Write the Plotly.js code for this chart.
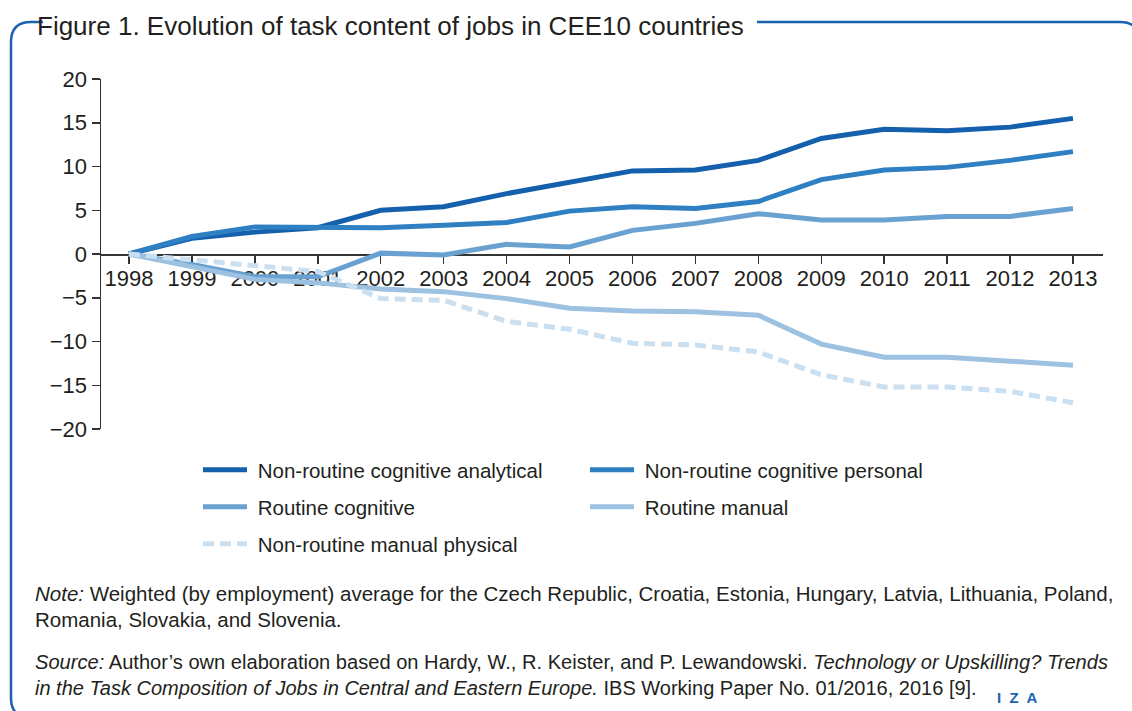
<!DOCTYPE html>
<html>
<head>
<meta charset="utf-8">
<script src="https://cdn.plot.ly/plotly-3.0.1.min.js"></script>
<style>
  html, body { margin: 0; padding: 0; background: #fff; }
  #chart { width: 1132px; height: 711px; }
</style>
</head>
<body>
<div id="chart"></div>
<script>
// ---- data ----
const years = [1998, 1999, 2000, 2001, 2002, 2003, 2004, 2005, 2006, 2007, 2008, 2009, 2010, 2011, 2012, 2013];
const nrCognitiveAnalytical = [0, 1.8, 2.5, 3.0, 5.0, 5.4, 6.9, 8.2, 9.5, 9.6, 10.7, 13.2, 14.25, 14.1, 14.5, 15.5];
const nrCognitivePersonal   = [0, 2.0, 3.1, 3.0, 3.0, 3.3, 3.6, 4.9, 5.4, 5.2, 6.0, 8.5, 9.6, 9.9, 10.7, 11.7];
const routineCognitive      = [0, -1.2, -2.6, -2.6, 0.1, -0.1, 1.1, 0.8, 2.7, 3.5, 4.6, 3.9, 3.9, 4.3, 4.3, 5.2];
const routineManual         = [0, -1.5, -2.9, -3.3, -4.0, -4.3, -5.1, -6.2, -6.5, -6.6, -7.0, -10.3, -11.8, -11.8, -12.2, -12.7];
const nrManualPhysical      = [0, -0.7, -1.3, -2.0, -5.1, -5.3, -7.7, -8.6, -10.2, -10.4, -11.2, -13.8, -15.2, -15.2, -15.7, -17.0];

const seriesNames = [
  "Non-routine cognitive analytical",
  "Non-routine cognitive personal",
  "Routine cognitive",
  "Routine manual",
  "Non-routine manual physical"
];
const titleText = "Figure 1. Evolution of task content of jobs in CEE10 countries";
const noteLines = [
  "<i>Note:</i> Weighted (by employment) average for the Czech Republic, Croatia, Estonia, Hungary, Latvia, Lithuania, Poland,",
  "Romania, Slovakia, and Slovenia.",
  "<i>Source:</i> Author’s own elaboration based on Hardy, W., R. Keister, and P. Lewandowski. <i>Technology or Upskilling? Trends</i>",
  "<i>in the Task Composition of Jobs in Central and Eastern Europe.</i> IBS Working Paper No. 01/2016, 2016 [9]."
];

// ---- layout helpers (pixel -> paper) ----
const W = 1132, H = 711;
const M = {l: 101, r: 29, t: 79, b: 282};
const PW = W - M.l - M.r, PH = H - M.t - M.b;
const px = x => (x - M.l) / PW;
const py = y => (H - M.b - y) / PH;
const P = (x, y) => px(x).toFixed(5) + "," + py(y).toFixed(5);

const bodyFont = "Liberation Sans, Arial, sans-serif";
const textColor = "#231f20";
const frameColor = "#1b63ae";

const colors = ["#1460ac", "#2f80c2", "#69a1d1", "#9cc1e1", "#cadff0"];
const ys = [nrCognitiveAnalytical, nrCognitivePersonal, routineCognitive, routineManual, nrManualPhysical];
const legendIds = ["legend", "legend2", "legend3", "legend4", "legend5"];
// legend item pixel anchors (left of symbol, row centre)
const legendPos = [[198, 470], [585, 470], [198, 507], [585, 507], [198, 544]];

const traces = ys.map((v, i) => ({
  x: years, y: v, name: "\u00a0" + seriesNames[i], type: "scatter", mode: "lines",
  legend: legendIds[i],
  line: {color: colors[i], width: 5, dash: i === 4 ? "11px,6px" : "solid"},
  hoverinfo: "skip"
}));

// frame path with a gap for the title
const r = 20, L = 11, T = 22, R = 1140, B = 718;
const framePath =
  "M" + P(757, T) + " L" + P(R - r, T) + " Q" + P(R, T) + " " + P(R, T + r) +
  " L" + P(R, B - r) + " Q" + P(R, B) + " " + P(R - r, B) +
  " L" + P(L + r, B) + " Q" + P(L, B) + " " + P(L, B - r) +
  " L" + P(L, T + r) + " Q" + P(L, T) + " " + P(L + r, T) + " L" + P(43, T);

const noteY = [593, 619, 662, 688];
const noteSize = [20.5, 20.5, 20.1, 20.0];
const annotations = [
  {text: titleText, x: px(35), y: py(26), xref: "paper", yref: "paper", xanchor: "left", yanchor: "middle",
   showarrow: false, font: {family: "Liberation Sans Narrow, Arial Narrow, sans-serif", size: 26, color: textColor}}
].concat(noteLines.map((t, i) => ({
  text: t, x: px(33), y: py(noteY[i]), xref: "paper", yref: "paper", xanchor: "left", yanchor: "middle",
  showarrow: false, font: {family: bodyFont, size: noteSize[i], color: textColor}
}))).concat([
  {text: "<b>I  Z  A</b>", x: px(995), y: py(697), xref: "paper", yref: "paper", xanchor: "left", yanchor: "middle",
   showarrow: false, font: {family: bodyFont, size: 15, color: frameColor}}
]);

const layout = {
  width: W, height: H,
  margin: M,
  paper_bgcolor: "#fff", plot_bgcolor: "#fff",
  showlegend: true,
  xaxis: {
    range: [1997.555, 2013.477], anchor: "free", position: 0.5, tickmode: "array",
    tickvals: years, ticktext: years.map(String), ticks: "outside", ticklen: 8, tickwidth: 1.5, tickcolor: "#333",
    showline: true, linecolor: "#333", linewidth: 1.5, showgrid: false, zeroline: false,
    tickfont: {family: bodyFont, size: 22, color: textColor}, layer: "below traces", fixedrange: true,
    ticklabelstandoff: -4
  },
  yaxis: {
    range: [-20, 20], dtick: 5, tick0: 0, ticks: "outside", ticklen: 8, tickwidth: 1.5, tickcolor: "#333",
    showline: true, linecolor: "#333", linewidth: 1.5, showgrid: false, zeroline: false,
    tickfont: {family: bodyFont, size: 22, color: textColor}, fixedrange: true
  },
  shapes: [{type: "path", xref: "paper", yref: "paper", path: framePath, line: {color: frameColor, width: 2.5}, layer: "above"}],
  annotations: annotations
};

legendIds.forEach((id, i) => {
  layout[id] = {
    orientation: "h", x: px(legendPos[i][0]), y: py(legendPos[i][1]), xanchor: "left", yanchor: "middle",
    itemwidth: 44, font: {family: bodyFont, size: 20.5, color: textColor},
    bgcolor: "rgba(0,0,0,0)", borderwidth: 0
  };
});

Plotly.newPlot("chart", traces, layout, {displayModeBar: false, staticPlot: true});
</script>
</body>
</html>
